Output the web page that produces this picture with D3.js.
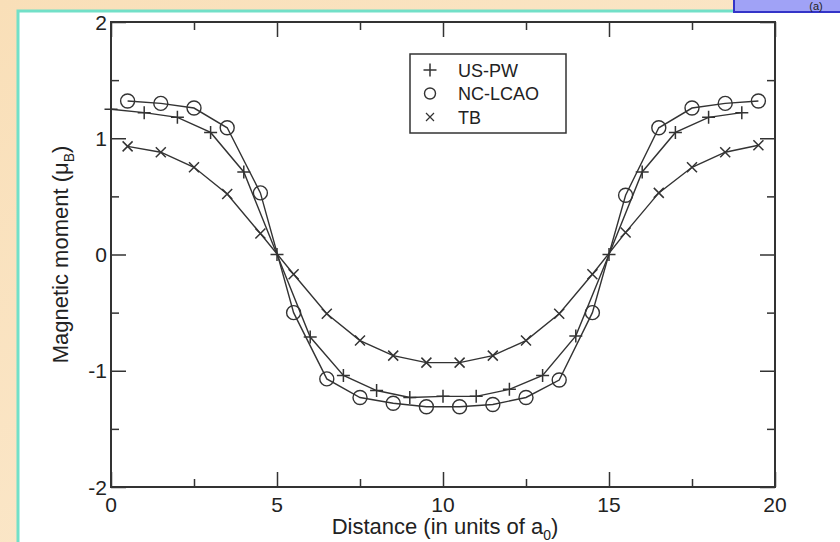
<!DOCTYPE html>
<html>
<head>
<meta charset="utf-8">
<script src="https://cdn.jsdelivr.net/npm/d3@7"></script>
<style>
  html, body { margin: 0; padding: 0; }
  body { width: 840px; height: 542px; overflow: hidden; background: #fbe7c9; }
</style>
</head>
<body>
<svg id="chart" width="840" height="542"></svg>
<script>
// US-PW: integer positions
const usX = [0, 1, 2, 3, 4, 5, 6, 7, 8, 9, 10, 11, 12, 13, 14, 15, 16, 17, 18, 19];
const usY = [1.25, 1.22, 1.18, 1.05, 0.71, 0.0, -0.71, -1.04, -1.17, -1.23, -1.22, -1.22, -1.16, -1.04, -0.70, 0.0, 0.71, 1.05, 1.18, 1.22];

// NC-LCAO and TB: half-integer positions
const halfX = [0.5, 1.5, 2.5, 3.5, 4.5, 5.5, 6.5, 7.5, 8.5, 9.5, 10.5, 11.5, 12.5, 13.5, 14.5, 15.5, 16.5, 17.5, 18.5, 19.5];
const ncY = [1.32, 1.30, 1.26, 1.09, 0.53, -0.50, -1.07, -1.23, -1.28, -1.31, -1.31, -1.29, -1.23, -1.08, -0.50, 0.51, 1.09, 1.26, 1.30, 1.32];
const tbY = [0.93, 0.88, 0.75, 0.52, 0.18, -0.17, -0.51, -0.74, -0.87, -0.93, -0.93, -0.87, -0.74, -0.51, -0.17, 0.19, 0.53, 0.75, 0.88, 0.94];

const xMajor = [0, 5, 10, 15, 20];
const xMinor = [2.5, 7.5, 12.5, 17.5];
const yMajor = [-2, -1, 0, 1, 2];
const yMinor = [-1.5, -0.5, 0.5, 1.5];

const legendNames = ["US-PW", "NC-LCAO", "TB"];

const ink = "#333";
const textInk = "#222";
const svg = d3.select("#chart");

// page background
const defs = svg.append("defs");
const grad = defs.append("linearGradient").attr("id", "bg").attr("x1", 0).attr("y1", 0).attr("x2", 1).attr("y2", 1);
grad.append("stop").attr("offset", "0%").attr("stop-color", "#f9dfb8");
grad.append("stop").attr("offset", "100%").attr("stop-color", "#fcecd4");
svg.append("rect").attr("width", 840).attr("height", 542).attr("fill", "url(#bg)");

// white panel with teal border
svg.append("rect")
    .attr("x", 18).attr("y", 11)
    .attr("width", 840).attr("height", 560)
    .attr("fill", "#fff")
    .attr("stroke", "#72e0c8").attr("stroke-width", 3);

// blue tag, top right
svg.append("rect")
    .attr("x", 734).attr("y", -20)
    .attr("width", 120).attr("height", 32)
    .attr("fill", "#a0a2f6")
    .attr("stroke", "#3434c8").attr("stroke-width", 2);
svg.append("text")
    .attr("x", 816).attr("y", 10)
    .attr("text-anchor", "middle")
    .style("font-family", "'Liberation Sans', Arial, sans-serif")
    .style("font-size", "11px")
    .attr("fill", "#222")
    .text("(a)");

const margin = { left: 111, right: 775, top: 22, bottom: 487 };
const x = d3.scaleLinear().domain([0, 20]).range([margin.left, margin.right]);
const y = d3.scaleLinear().domain([-2, 2]).range([margin.bottom, margin.top]);

const font = "'Liberation Sans', Arial, Helvetica, sans-serif";

function styleAxis(g) {
    g.select(".domain").remove();
    g.selectAll(".tick line").attr("stroke", ink).attr("stroke-width", 1.5);
}

// ticks (inward) on all four sides
const plotW = margin.right - margin.left;
const plotH = margin.bottom - margin.top;

svg.append("g").attr("transform", `translate(0,${margin.bottom})`)
    .call(d3.axisBottom(x).tickValues(xMajor).tickSize(-15).tickFormat(""))
    .call(styleAxis);
svg.append("g").attr("transform", `translate(0,${margin.bottom})`)
    .call(d3.axisBottom(x).tickValues(xMinor).tickSize(-8).tickFormat(""))
    .call(styleAxis);
svg.append("g").attr("transform", `translate(0,${margin.top})`)
    .call(d3.axisTop(x).tickValues(xMajor).tickSize(-15).tickFormat(""))
    .call(styleAxis);
svg.append("g").attr("transform", `translate(0,${margin.top})`)
    .call(d3.axisTop(x).tickValues(xMinor).tickSize(-8).tickFormat(""))
    .call(styleAxis);

svg.append("g").attr("transform", `translate(${margin.left},0)`)
    .call(d3.axisLeft(y).tickValues(yMajor).tickSize(-15).tickFormat(""))
    .call(styleAxis);
svg.append("g").attr("transform", `translate(${margin.left},0)`)
    .call(d3.axisLeft(y).tickValues(yMinor).tickSize(-8).tickFormat(""))
    .call(styleAxis);
svg.append("g").attr("transform", `translate(${margin.right},0)`)
    .call(d3.axisRight(y).tickValues(yMajor).tickSize(-15).tickFormat(""))
    .call(styleAxis);
svg.append("g").attr("transform", `translate(${margin.right},0)`)
    .call(d3.axisRight(y).tickValues(yMinor).tickSize(-8).tickFormat(""))
    .call(styleAxis);

// frame
svg.append("rect")
    .attr("x", margin.left).attr("y", margin.top)
    .attr("width", plotW).attr("height", plotH)
    .attr("fill", "none").attr("stroke", ink).attr("stroke-width", 2);

// tick labels
svg.append("g").selectAll("text")
    .data(xMajor)
    .join("text")
    .attr("x", (d) => x(d))
    .attr("y", margin.bottom + 25)
    .attr("text-anchor", "middle")
    .style("font-family", font).style("font-size", "21px")
    .attr("fill", textInk)
    .text((d) => d);

svg.append("g").selectAll("text")
    .data(yMajor)
    .join("text")
    .attr("x", margin.left - 4)
    .attr("y", (d) => y(d) + 7.5)
    .attr("text-anchor", "end")
    .style("font-family", font).style("font-size", "21px")
    .attr("fill", textInk)
    .text((d) => d);

// axis titles
const xt = svg.append("text")
    .attr("x", x(10) + 2).attr("y", 534)
    .attr("text-anchor", "middle")
    .style("font-family", font).style("font-size", "22px")
    .attr("fill", textInk);
xt.append("tspan").text("Distance (in units of a");
xt.append("tspan").attr("dy", 6).style("font-size", "14px").text("0");
xt.append("tspan").attr("dy", -6).text(")");

const yt = svg.append("text")
    .attr("transform", `translate(68,${y(0)}) rotate(-90)`)
    .attr("text-anchor", "middle")
    .style("font-family", font).style("font-size", "22px")
    .attr("fill", textInk);
yt.append("tspan").text("Magnetic moment (\u03bc");
yt.append("tspan").attr("dy", 6).style("font-size", "14px").text("B");
yt.append("tspan").attr("dy", -6).text(")");

// marker paths
const plusPath = "M-6.5,0H6.5M0,-6.5V6.5";
const crossPath = "M-5,-5L5,5M-5,5L5,-5";

const line = d3.line().x((d) => x(d[0])).y((d) => y(d[1]));
const plot = svg.append("g");

function series(xs, ys, kind) {
    const pts = xs.map((v, i) => [v, ys[i]]);
    plot.append("path")
        .datum(pts)
        .attr("fill", "none")
        .attr("stroke", ink)
        .attr("stroke-width", 1.4)
        .attr("d", line);
    const g = plot.append("g");
    if (kind === "circle") {
        g.selectAll("circle").data(pts).join("circle")
            .attr("cx", (d) => x(d[0])).attr("cy", (d) => y(d[1]))
            .attr("r", 7)
            .attr("fill", "none").attr("stroke", ink).attr("stroke-width", 1.4);
    } else {
        g.selectAll("path").data(pts).join("path")
            .attr("transform", (d) => `translate(${x(d[0])},${y(d[1])})`)
            .attr("d", kind === "plus" ? plusPath : crossPath)
            .attr("fill", "none").attr("stroke", ink).attr("stroke-width", 1.5);
    }
}

series(usX, usY, "plus");
series(halfX, ncY, "circle");
series(halfX, tbY, "cross");

// legend
const legend = svg.append("g").attr("transform", "translate(410,54)");
legend.append("rect")
    .attr("width", 156).attr("height", 79)
    .attr("fill", "#fff").attr("stroke", ink).attr("stroke-width", 1.5);
const kinds = ["plus", "circle", "cross"];
legendNames.forEach((name, i) => {
    const cy = 16 + i * 23.5;
    if (kinds[i] === "circle") {
        legend.append("circle").attr("cx", 20).attr("cy", cy).attr("r", 5.5)
            .attr("fill", "none").attr("stroke", ink).attr("stroke-width", 1.4);
    } else {
        legend.append("path")
            .attr("transform", `translate(20,${cy}) scale(${kinds[i] === "plus" ? 1 : 0.8})`)
            .attr("d", kinds[i] === "plus" ? plusPath : crossPath)
            .attr("fill", "none").attr("stroke", ink).attr("stroke-width", 1.5);
    }
    legend.append("text")
        .attr("x", 48).attr("y", cy + 6.5)
        .style("font-family", font).style("font-size", "18px")
        .attr("fill", textInk)
        .text(name);
});
</script>
</body>
</html>
